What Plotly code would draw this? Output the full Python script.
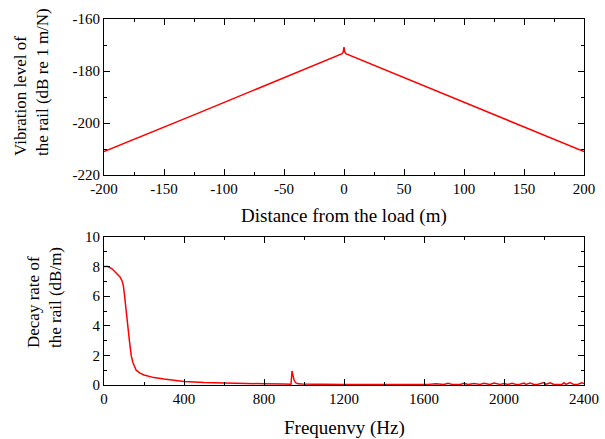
import plotly.graph_objects as go

# top: vibration level vs distance
dist = [-200, -125, -124, -1.5, -0.6, 0, 0.6, 1.5, 124, 125, 200]
level = [-211, -196.9, -196.7, -173.3, -172.6, -170.8, -172.6, -173.3, -196.7, -196.9, -211]

# bottom: decay rate vs frequency
freq = [0, 20, 40, 60, 80, 90, 97, 103, 110, 118, 127, 136, 145, 161, 180, 200, 225, 250, 300,
        350, 400, 500, 600, 700, 800, 900, 935, 940, 944, 950, 958, 970, 990, 1020, 1100, 1200, 1300,
        1400, 1430, 1450, 1480, 1520, 1550, 1580, 1620, 1660, 1700, 1720, 1740, 1780, 1800, 1820,
        1850, 1880, 1900, 1930, 1950, 1980, 2000, 2020, 2040, 2060, 2080, 2100, 2110, 2130, 2150,
        2170, 2200, 2210, 2230, 2250, 2270, 2290, 2300, 2310, 2330, 2350, 2370, 2390, 2400]
decay = [8.0, 8.0, 7.85, 7.6, 7.3, 7.05, 6.7, 6.0, 5.0, 4.0, 3.0, 2.0, 1.5, 1.0, 0.8, 0.68,
         0.58, 0.5, 0.4, 0.31, 0.24, 0.17, 0.13, 0.1, 0.08, 0.06, 0.05, 0.95, 0.7, 0.35, 0.15, 0.08,
         0.06, 0.05, 0.04, 0.03, 0.03, 0.03, 0.06, 0.03, 0.07, 0.03, 0.08, 0.03, 0.04, 0.09, 0.03,
         0.12, 0.04, 0.03, 0.11, 0.03, 0.1, 0.04, 0.12, 0.03, 0.13, 0.04, 0.1, 0.03, 0.12, 0.04, 0.05,
         0.13, 0.04, 0.14, 0.03, 0.05, 0.16, 0.04, 0.15, 0.03, 0.06, 0.04, 0.16, 0.04, 0.17, 0.03,
         0.05, 0.15, 0.1]

dist_ticks = [-200, -150, -100, -50, 0, 50, 100, 150, 200]
level_ticks = [-220, -200, -180, -160]
freq_ticks = [0, 400, 800, 1200, 1600, 2000, 2400]
decay_ticks = [0, 2, 4, 6, 8, 10]

RED = "#ff0000"
FONT = "Liberation Serif"
W, H = 605, 439
L, R, T, B = 104, 21, 19, 54
PW, PH = W - L - R, H - T - B


def px_x(p):
    return (p - L) / PW


def px_y(p):
    return (H - B - p) / PH


fig = go.Figure()
fig.add_trace(go.Scatter(x=dist, y=level, mode="lines", line=dict(color=RED, width=1.5),
                         xaxis="x", yaxis="y", showlegend=False))
fig.add_trace(go.Scatter(x=freq, y=decay, mode="lines", line=dict(color=RED, width=1.5),
                         xaxis="x2", yaxis="y2", showlegend=False))

ax = dict(showline=True, linecolor="black", linewidth=1, mirror="ticks", ticks="inside",
          ticklen=6, tickcolor="black", showgrid=False, zeroline=False, automargin=False,
          tickfont=dict(family=FONT, size=15, color="black"))
mn = dict(ticks="inside", ticklen=3, tickcolor="black")

fig.update_layout(
    width=W, height=H,
    margin=dict(l=L, r=R, t=T, b=B),
    plot_bgcolor="white", paper_bgcolor="white",
    font=dict(family=FONT, size=17, color="black"),
    xaxis=dict(ax, domain=[0, 1], anchor="y", range=[-200, 200],
               tickvals=dist_ticks, ticktext=[str(v) for v in dist_ticks],
               minor=dict(mn, dtick=25)),
    yaxis=dict(ax, domain=[px_y(175), 1], anchor="x", range=[-220, -160],
               tickvals=level_ticks, ticktext=[str(v) for v in level_ticks],
               minor=dict(mn, dtick=10)),
    xaxis2=dict(ax, domain=[0, 1], anchor="y2", range=[0, 2400],
                tickvals=freq_ticks, ticktext=[str(v) for v in freq_ticks],
                minor=dict(mn, dtick=200)),
    yaxis2=dict(ax, domain=[0, px_y(237)], anchor="x2", range=[0, 10],
                tickvals=decay_ticks, ticktext=[str(v) for v in decay_ticks],
                minor=dict(mn, dtick=1)),
)

# y titles are drawn so both lines start at the same bottom point
titles = [
    ("Vibration level of<br>the rail (dB re 1 m/N)", 32, 82, -90, 17),
    ("Decay rate of<br>the rail (dB/m)", 44, 298, -90, 17),
    ("Distance from the load (m)", 344, 216, 0, 19),
    ("Frequenvy (Hz)", 344, 428, 0, 19),
]
for text, x, y, ang, size in titles:
    fig.add_annotation(text=text, x=px_x(x), y=px_y(y), xref="paper", yref="paper",
                       xanchor="center", yanchor="middle", showarrow=False, textangle=ang,
                       align="left", font=dict(family=FONT, size=size, color="black"))

fig.write_html("out.html", config={"displayModeBar": False},
               post_script="document.body.style.margin='0';")
